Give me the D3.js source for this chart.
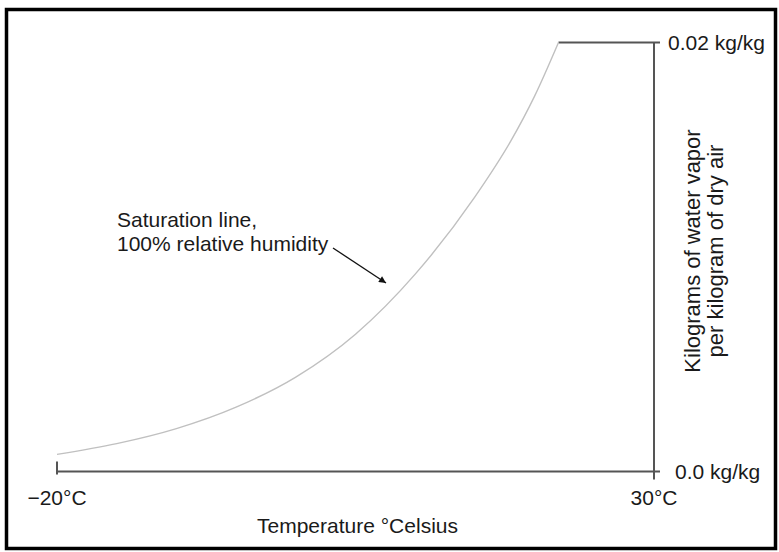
<!DOCTYPE html>
<html>
<head>
<meta charset="utf-8">
<script src="https://cdn.jsdelivr.net/npm/d3@7"></script>
<style>
  html, body { margin: 0; padding: 0; background: #fff; }
  svg { display: block; }
  text { font-family: "Liberation Sans", Arial, Helvetica, sans-serif; fill: #1a1a1a; }
</style>
</head>
<body>
<svg id="chart" width="779" height="552"></svg>
<script>
// Saturation mixing ratio (kg water vapor per kg dry air) against air temperature
const temps = [-20, -15, -10, -5, 0, 5, 10, 15, 18, 20, 22];
const mixing = [0.0008, 0.0013, 0.0020, 0.0030, 0.0044, 0.0064, 0.0092, 0.0128, 0.0154, 0.0175, 0.0200];

const xDomain = [-20, 30];
const yDomain = [0, 0.02];
const xTickLabels = ["\u221220\u00B0C", "30\u00B0C"];
const yTickLabels = ["0.0 kg/kg", "0.02 kg/kg"];
const xTitle = "Temperature \u00B0Celsius";
const yTitle = ["Kilograms of water vapor", "per kilogram of dry air"];
const note = ["Saturation line,", "100% relative humidity"];

const svg = d3.select("#chart");
const axisColor = "#555";
const fontSize = 21;

const x = d3.scaleLinear().domain(xDomain).range([57, 654]);
const y = d3.scaleLinear().domain(yDomain).range([471.5, 42.5]);

// outer frame
svg.append("rect")
  .attr("x", 6.5).attr("y", 9.5)
  .attr("width", 769).attr("height", 539)
  .attr("fill", "none").attr("stroke", "#000").attr("stroke-width", 3.5);

// arrowhead marker
svg.append("defs").append("marker")
  .attr("id", "arrow")
  .attr("viewBox", "0 0 10 10")
  .attr("refX", 10).attr("refY", 5)
  .attr("markerWidth", 9).attr("markerHeight", 7)
  .attr("markerUnits", "userSpaceOnUse")
  .attr("orient", "auto")
  .append("path").attr("d", "M0,0 L10,5 L0,10 Z").attr("fill", "#111");

const axes = svg.append("g").attr("stroke", axisColor).attr("stroke-width", 2).attr("fill", "none");

// horizontal temperature axis, with a short tick at the cold end
axes.append("line")
  .attr("x1", x(xDomain[0])).attr("x2", x(xDomain[1]) + 6)
  .attr("y1", y(0)).attr("y2", y(0));
axes.append("line")
  .attr("x1", x(xDomain[0])).attr("x2", x(xDomain[0]))
  .attr("y1", y(0) - 10).attr("y2", y(0) + 3);

// vertical moisture axis at the warm end
axes.append("line")
  .attr("x1", x(xDomain[1])).attr("x2", x(xDomain[1]))
  .attr("y1", y(yDomain[1])).attr("y2", y(0) + 8);

// top level line from the end of the curve to the axis
axes.append("line")
  .attr("x1", x(temps[temps.length - 1])).attr("x2", x(xDomain[1]) + 6)
  .attr("y1", y(yDomain[1])).attr("y2", y(yDomain[1]));

// saturation curve
const line = d3.line()
  .x((d, i) => x(temps[i]))
  .y(d => y(d))
  .curve(d3.curveMonotoneX);

svg.append("path")
  .datum(mixing)
  .attr("d", line)
  .attr("fill", "none")
  .attr("stroke", "#c0c0c0")
  .attr("stroke-width", 1.4);

// tick labels
svg.append("text")
  .attr("x", x(xDomain[0])).attr("y", 505)
  .attr("text-anchor", "middle").attr("font-size", fontSize)
  .text(xTickLabels[0]);
svg.append("text")
  .attr("x", x(xDomain[1])).attr("y", 505)
  .attr("text-anchor", "middle").attr("font-size", fontSize)
  .text(xTickLabels[1]);

svg.append("text")
  .attr("x", 675).attr("y", y(0)).attr("dy", "0.35em")
  .attr("font-size", fontSize)
  .text(yTickLabels[0]);
svg.append("text")
  .attr("x", 668).attr("y", y(yDomain[1])).attr("dy", "0.35em")
  .attr("font-size", fontSize)
  .text(yTickLabels[1]);

// axis titles
svg.append("text")
  .attr("x", (x(xDomain[0]) + x(xDomain[1])) / 2 + 2).attr("y", 533)
  .attr("text-anchor", "middle").attr("font-size", fontSize)
  .text(xTitle);

const yt = svg.append("text")
  .attr("transform", "translate(700,251) rotate(-90)")
  .attr("text-anchor", "middle").attr("font-size", 22);
yt.append("tspan").attr("x", 0).attr("y", 0).text(yTitle[0]);
yt.append("tspan").attr("x", 0).attr("y", 23).text(yTitle[1]);

// annotation for the curve
const nt = svg.append("text").attr("font-size", fontSize);
nt.append("tspan").attr("x", 117).attr("y", 227).text(note[0]);
nt.append("tspan").attr("x", 117).attr("y", 251).text(note[1]);

svg.append("line")
  .attr("x1", 333).attr("y1", 248)
  .attr("x2", 386).attr("y2", 283)
  .attr("stroke", "#111").attr("stroke-width", 1.3)
  .attr("marker-end", "url(#arrow)");
</script>
</body>
</html>
